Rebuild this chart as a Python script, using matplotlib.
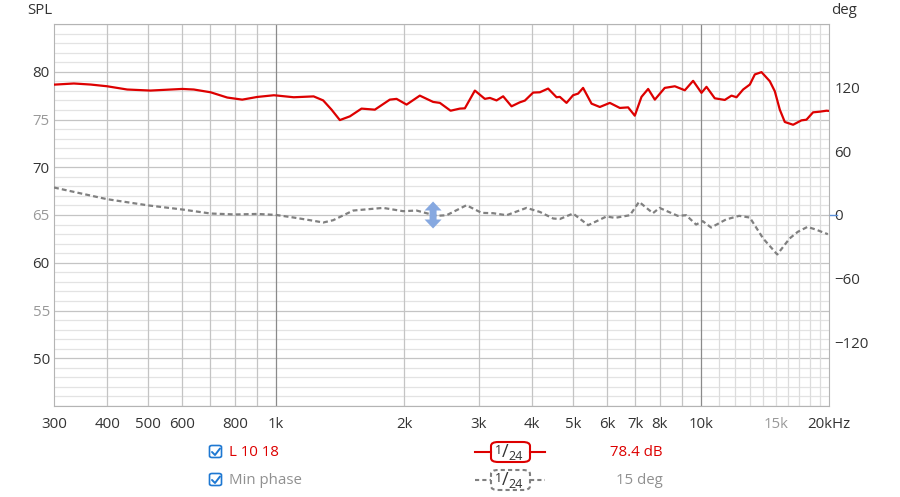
import matplotlib
matplotlib.use("Agg")
import matplotlib.pyplot as plt
from matplotlib.patches import Polygon, FancyBboxPatch
from matplotlib.transforms import ScaledTranslation

plt.rcParams['font.family'] = ['Open Sans', 'DejaVu Sans']

# SPL trace (L 10 18), 1/24 oct smoothing
spl_freq = [300, 334, 366, 400, 446, 506, 601, 640, 701, 767, 832, 902, 988, 1100,
            1225, 1290, 1350, 1412, 1491, 1588, 1707, 1851, 1920, 2027, 2178, 2341,
            2428, 2573, 2705, 2780, 2935, 3098, 3184, 3301, 3421, 3580, 3745, 3848,
            4025, 4174, 4365, 4569, 4651, 4823, 4997, 5135, 5276, 5523, 5777, 6098,
            6438, 6734, 6982, 7240, 7506, 7783, 8213, 8674, 9156, 9577, 10021, 10297,
            10770, 11370, 11792, 12117, 12558, 13023, 13381, 13875, 14510, 14910,
            15320, 15740, 16465, 17224, 17701, 18345, 19023, 19728, 20000]
spl_db = [78.65, 78.77, 78.66, 78.48, 78.14, 78.03, 78.2, 78.14, 77.85, 77.3, 77.08,
          77.36, 77.54, 77.33, 77.42, 77.0, 76.03, 74.94, 75.33, 76.14, 76.03, 77.08,
          77.16, 76.56, 77.5, 76.84, 76.74, 75.92, 76.14, 76.17, 78.03, 77.16, 77.26,
          77.0, 77.43, 76.38, 76.8, 76.98, 77.82, 77.85, 78.24, 77.33, 77.37, 76.74,
          77.54, 77.71, 78.31, 76.66, 76.31, 76.74, 76.21, 76.27, 75.4, 77.37, 78.2,
          77.08, 78.31, 78.48, 78.06, 79.05, 77.79, 78.42, 77.22, 77.05, 77.5, 77.33,
          78.14, 78.66, 79.72, 79.96, 79.01, 77.96, 76.03, 74.74, 74.45, 74.91, 74.98,
          75.75, 75.82, 75.92, 75.9]

# minimum phase trace
ph_freq = [300, 334, 400, 502, 601, 701, 802, 902, 997, 1100, 1227, 1290, 1362, 1518,
           1785, 1990, 2140, 2384, 2518, 2804, 3045, 3240, 3485, 3883, 4174, 4487,
           4651, 4997, 5424, 5988, 6270, 6800, 7146, 7703, 7982, 8813, 9223, 9733,
           10089, 10558, 11447, 12292, 13023, 13996, 15110, 16157, 16882, 17800,
           18615, 19880]
ph_deg = [25.9, 21.8, 14.9, 8.95, 5.2, 1.4, 0.5, 1.0, 0.1, -2.4, -5.5, -7.1, -4.9, 4.2,
          6.7, 3.6, 4.2, -0.8, -0.2, 9.2, 2.0, 1.7, -0.2, 6.7, 2.9, -3.3, -3.8, 1.4,
          -9.6, -1.4, -2.7, -0.2, 12.4, 1.7, 6.7, -0.8, -0.2, -9.0, -5.8, -11.8, -4.2,
          -0.8, -2.4, -22.1, -37.2, -22.1, -15.9, -11.2, -13.7, -18.1]

x_ticks = [300, 400, 500, 600, 800, 1000, 2000, 3000, 4000, 5000, 6000, 7000, 8000,
           10000, 15000, 20000]
x_labels = ['300', '400', '500', '600', '800', '1k', '2k', '3k', '4k', '5k', '6k',
            '7k', '8k', '10k', '15k', '20kHz']
spl_ticks = [50, 55, 60, 65, 70, 75, 80]
deg_ticks = [-120, -60, 0, 60, 120]

RED = '#dd0000'
GRAY = '#888888'
DARK = '#333333'
LIGHT = '#999999'
FS = 10.8

fig = plt.figure(figsize=(9, 4.97), dpi=100)
ax = fig.add_axes([54 / 900, 1 - 406 / 497, 775 / 900, 382 / 497])
ax.set_xscale('log')
ax.set_xlim(300, 20000)
ax.set_ylim(45, 85)

# grid
for v in range(45, 86):
    ax.axhline(v, color='#c4c4c4' if v % 5 == 0 else '#e3e3e3', lw=0.9, zorder=0)
grid_lo = [400, 500, 600, 700, 800, 900, 2000, 3000, 4000, 5000, 6000, 7000, 8000, 9000]
for f in grid_lo:
    ax.axvline(f, color='#c4c4c4', lw=0.9, zorder=0.5)
for f in range(11000, 20000, 1000):
    ax.axvline(f, color='#dcdcdc', lw=0.9, zorder=0.5)
for f in [1000, 10000]:
    ax.axvline(f, color='#8a8a8a', lw=0.9, zorder=0.6)
for s in ax.spines.values():
    s.set_color('#b4b4b4')

ax.plot(spl_freq, spl_db, color=RED, lw=1.6, zorder=3)

ax.set_xticks(x_ticks)
ax.set_xticklabels(x_labels)
ax.minorticks_off()
ax.set_yticks(spl_ticks)
ax.tick_params(axis='both', length=0, labelsize=FS, colors=DARK)
ax.tick_params(axis='x', pad=8)
ax.tick_params(axis='y', pad=3)
for lab, v in zip(ax.get_yticklabels(), spl_ticks):
    lab.set_color(DARK if v % 10 == 0 else LIGHT)
for lab, t in zip(ax.get_xticklabels(), x_labels):
    if t == '15k':
        lab.set_color(LIGHT)

ax2 = ax.twinx()
ax2.set_ylim(-180, 180)
ax2.set_yticks(deg_ticks)
ax2.tick_params(axis='y', length=0, labelsize=FS, colors=DARK, pad=4)
for s in ax2.spines.values():
    s.set_visible(False)
ax2.plot(ph_freq, ph_deg, color='#808080', lw=1.6, dashes=(2.2, 1.4), zorder=3)
ax2.plot([1.001, 1.01], [0.5, 0.5], transform=ax2.transAxes, color='#5b8fd8',
         lw=1.0, clip_on=False)

# blue drag handle
anchor = ScaledTranslation(2340, 0, ax2.transData)
arr = [(0, 0.135), (0.085, 0.045), (0.035, 0.045), (0.035, -0.045), (0.085, -0.045),
       (0, -0.135), (-0.085, -0.045), (-0.035, -0.045), (-0.035, 0.045), (-0.085, 0.045)]
ax2.add_patch(Polygon(arr, closed=True, transform=fig.dpi_scale_trans + anchor,
                      facecolor='#86a8e0', edgecolor='none', zorder=5, clip_on=False))

fig.text(27 / 900, 1 - 10 / 497, 'SPL', fontsize=FS, color=DARK, va='center')
fig.text(831 / 900, 1 - 10 / 497, 'deg', fontsize=FS, color=DARK, va='center')


# legend rows
def fx(x):
    return x / 900


def fy(y):
    return 1 - y / 497


BLUE = '#1e78d2'
rows = [(452, 'L 10 18', RED, '78.4 dB', RED, '-'),
        (480, 'Min phase', '#909090', '15 deg', '#909090', '--')]
for y, name, ncol, val, vcol, ls in rows:
    # checkbox
    fig.add_artist(FancyBboxPatch((fx(209.5), fy(y + 5.5)), fx(12), 12 / 497,
                                  boxstyle='round,pad=0,rounding_size=0.003',
                                  transform=fig.transFigure, facecolor='white',
                                  edgecolor=BLUE, lw=1.2))
    fig.add_artist(plt.Line2D([fx(212), fx(215), fx(220)], [fy(y), fy(y + 3), fy(y - 3.5)],
                              color=BLUE, lw=1.4, solid_capstyle='round'))
    fig.text(fx(229), fy(y), name, fontsize=FS, color=ncol, va='center')
    lcol = RED if ls == '-' else '#808080'
    lstyle = '-' if ls == '-' else (0, (2, 1.5))
    for xa, xb in [(475, 491), (530, 545)]:
        fig.add_artist(plt.Line2D([fx(xa), fx(xb)], [fy(y), fy(y)], color=lcol,
                                  lw=1.5, linestyle=lstyle))
    box = FancyBboxPatch((fx(491), fy(y + 10)), fx(39), 20 / 497,
                         boxstyle='round,pad=0,rounding_size=0.008',
                         transform=fig.transFigure, facecolor='white', edgecolor=lcol,
                         lw=1.5, linestyle=lstyle)
    fig.add_artist(box)
    fig.text(fx(498), fy(y - 2), '1', fontsize=9, color=DARK, ha='center', va='center')
    fig.text(fx(505), fy(y), '/', fontsize=13, color=DARK, ha='center', va='center')
    fig.text(fx(516), fy(y + 5), '24', fontsize=9, color=DARK, ha='center', va='center')
    fig.text(fx(663), fy(y), val, fontsize=FS, color=vcol, ha='right', va='center')

fig.savefig('out.png', dpi=100)
